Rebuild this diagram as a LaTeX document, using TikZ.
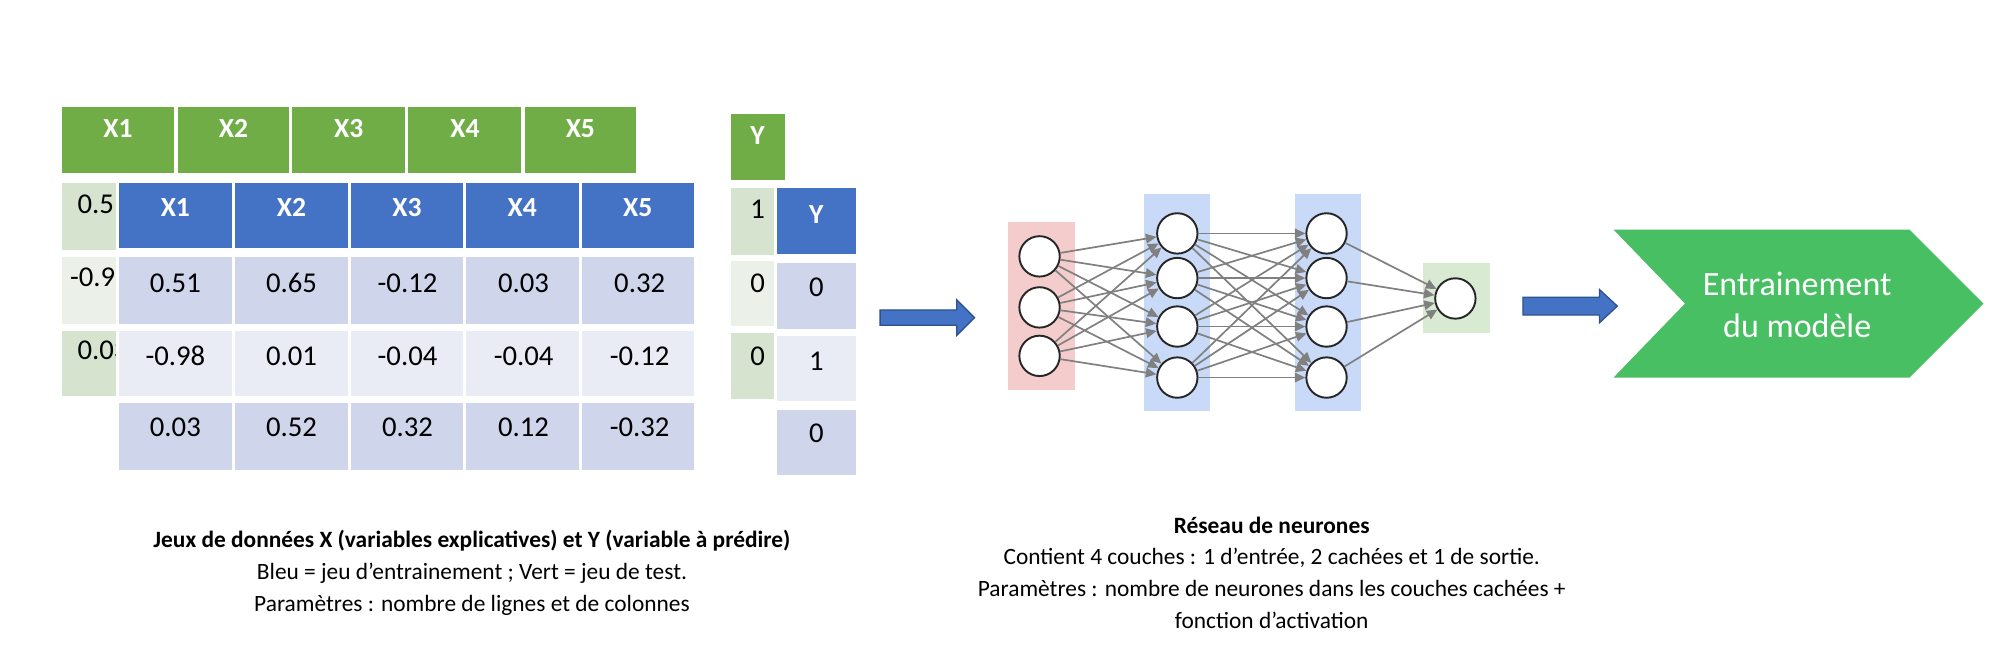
\documentclass[tikz,border=0pt]{standalone}
\usepackage{fontspec}
\setmainfont{Carlito}
\usetikzlibrary{arrows.meta}
\definecolor{gh}{HTML}{70AD47}
\definecolor{bh}{HTML}{4472C4}
\definecolor{bd}{HTML}{CFD5EA}
\definecolor{bl}{HTML}{E9EBF5}
\definecolor{gd}{HTML}{D5E3CF}
\definecolor{gl}{HTML}{EBF1E9}
\definecolor{lred}{HTML}{F4CCCC}
\definecolor{lblue}{HTML}{C9DAF8}
\definecolor{lgreen}{HTML}{D9EAD3}
\definecolor{chev}{HTML}{48BF63}
\definecolor{arrb}{HTML}{2F528F}
\tikzset{
  cell/.style={draw=white,line width=1.5pt},
  hd/.style={font=\fontsize{13}{15}\selectfont\bfseries,text=white},
  val/.style={font=\fontsize{13.5}{16}\selectfont},
  neuron/.style={circle,draw=black!85,line width=0.9pt,fill=white,minimum size=19pt,inner sep=0pt},
  syn/.style={draw=black!50,line width=0.8pt,-{Triangle[length=5pt,width=4.5pt]}},
  captxt/.style={font=\fontsize{11}{15}\selectfont,align=center},
  barrow/.style={fill=bh,draw=arrb,line width=0.6pt},
}
\begin{document}
\begin{tikzpicture}[x=0.6pt,y=-0.6pt]
\useasboundingbox (0,0) rectangle (1568,523);
% green (test) X table
\foreach \i/\a/\b in {1/47/138,2/138/228,3/228/319,4/319/410,5/410/500}{
  \fill[gh,cell] (\a,83) rectangle (\b,137);
  \node[hd] (gx\i) at ({(\a+\b)/2},101) {X\i};
}
\fill[gd,cell] (47,142) rectangle (138,197);
\fill[gl,cell] (47,200) rectangle (138,255);
\fill[gd,cell] (47,258) rectangle (138,312);
\node[val,anchor=west] (g1) at (55,160) {0.51};
\node[val,anchor=west] (g2) at (49,217) {-0.98};
\node[val,anchor=west] (g3) at (55,275) {0.03};
% blue (train) X table
\def\cols{1/92/183,2/183/274,3/274/364,4/364/455,5/455/545}
\foreach \i/\a/\b in \cols{
  \fill[bh,cell] (\a,142) rectangle (\b,196);
  \node[hd] (bx\i) at ({(\a+\b)/2},163) {X\i};
}
\foreach \r/\ya/\yb/\c/\yt in {1/200/255/bd/222,2/258/312/bl/279,3/315/370/bd/335}{
  \foreach \i/\a/\b in \cols{
    \fill[\c,cell] (\a,\ya) rectangle (\b,\yb);
  }
}
\foreach \i/\t in {1/0.51,2/0.65,3/-0.12,4/0.03,5/0.32}{\node[val] (r1c\i) at ({92+91*(\i-0.5)},222) {\t};}
\foreach \i/\t in {1/-0.98,2/0.01,3/-0.04,4/-0.04,5/-0.12}{\node[val] (r2c\i) at ({92+91*(\i-0.5)},279) {\t};}
\foreach \i/\t in {1/0.03,2/0.52,3/0.32,4/0.12,5/-0.32}{\node[val] (r3c\i) at ({92+91*(\i-0.5)},335) {\t};}
% Y tables
\fill[gh,cell] (572,88) rectangle (617,142);
\node[hd] (gy) at (594,106) {Y};
\fill[gd,cell] (572,146) rectangle (617,201);
\fill[gl,cell] (572,203) rectangle (617,257);
\fill[gd,cell] (572,260) rectangle (617,314);
\node[val] (gy1) at (594,164) {1};
\node[val] (gy2) at (594,222) {0};
\node[val] (gy3) at (594,279) {0};
\fill[bh,cell] (608,146) rectangle (672,200);
\node[hd] (by) at (640,168) {Y};
\fill[bd,cell] (608,205) rectangle (672,259);
\fill[bl,cell] (608,262) rectangle (672,316);
\fill[bd,cell] (608,320) rectangle (672,374);
\node[val] (by1) at (640,225) {0};
\node[val] (by2) at (640,283) {1};
\node[val] (by3) at (640,340) {0};
% arrow 1
\draw[barrow] (690,243) -- (750,243) -- (750,235) -- (764,249) -- (750,263) -- (750,255) -- (690,255) -- cycle;
% neural network
\fill[lred] (790,174) rectangle (843,306);
\fill[lblue] (897,152) rectangle (949,322);
\fill[lblue] (1015,152) rectangle (1067,322);
\fill[lgreen] (1116,206) rectangle (1168,261);
\foreach \j/\y in {1/201,2/241,3/279}{\node[neuron] (i\j) at (815,\y) {};}
\foreach \j/\y in {1/183,2/218,3/256,4/296}{
  \node[neuron] (h\j) at (923,\y) {};
  \node[neuron] (k\j) at (1040,\y) {};
}
\node[neuron] (o) at (1141,234) {};
\foreach \a in {1,2,3}{\foreach \b in {1,2,3,4}{\draw[syn] (i\a) -- (h\b);}}
\foreach \a in {1,2,3,4}{\foreach \b in {1,2,3,4}{\draw[syn] (h\a) -- (k\b);}}
\foreach \a in {1,2,3,4}{\draw[syn] (k\a) -- (o);}
% arrow 2
\draw[barrow] (1194,233) -- (1254,233) -- (1254,227) -- (1268,240) -- (1254,253) -- (1254,247) -- (1194,247) -- cycle;
% chevron
\fill[chev] (1265,180) -- (1497,180) -- (1555,238) -- (1497,296) -- (1265,296) -- (1321,238) -- cycle;
\node[font=\fontsize{16}{20}\selectfont,text=white,align=center] (ch) at (1409,239) {Entrainement\\du modèle};
% captions
\node[captxt] (c1) at (370,449) {\textbf{Jeux de données X (variables explicatives) et Y (variable à prédire)}\\Bleu = jeu d’entrainement ; Vert = jeu de test.\\Paramètres : nombre de lignes et de colonnes};
\node[captxt] (c2) at (997,449) {\textbf{Réseau de neurones}\\Contient 4 couches : 1 d’entrée, 2 cachées et 1 de sortie.\\Paramètres : nombre de neurones dans les couches cachées +\\fonction d’activation};
\end{tikzpicture}
\end{document}
